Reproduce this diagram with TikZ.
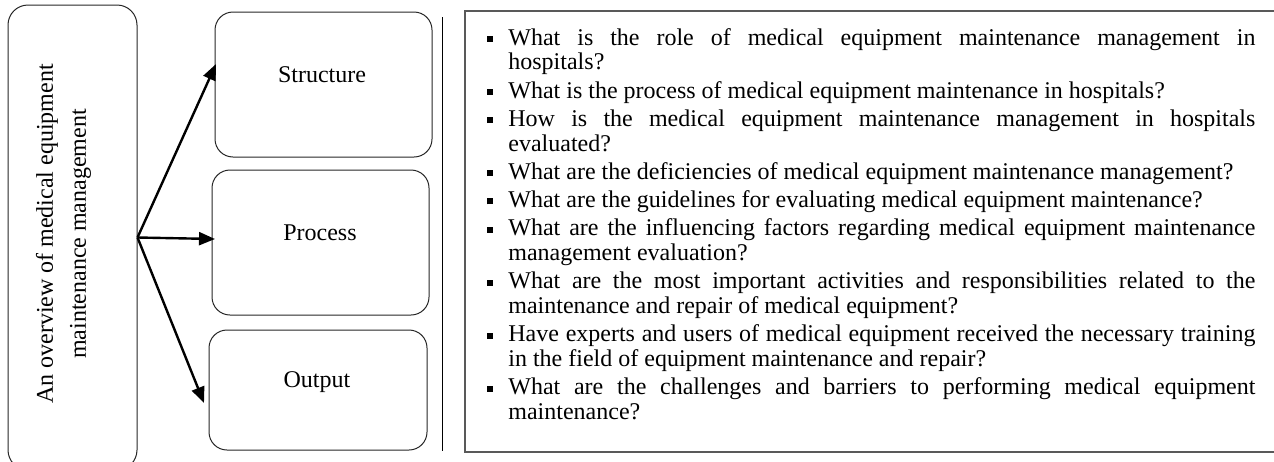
\documentclass[tikz,border=0pt]{standalone}
\usepackage{fontspec}
\setmainfont{Liberation Serif}
\usetikzlibrary{arrows.meta}
\newcommand{\qitem}[1]{\noindent\hangindent=10.5pt\hangafter=1\makebox[10.5pt][l]{\rule[1.6pt]{3pt}{3pt}}#1\par\vspace{1.75pt}}
\begin{document}
\begin{tikzpicture}[x=0.5pt,y=-0.5pt,
  box/.style={draw=black!85,line width=0.5pt,rounded corners=9pt,inner sep=0pt},
  lbl/.style={anchor=base,inner sep=0pt,font=\fontsize{12}{14}\selectfont},
  arr/.style={line width=1.2pt,-{Triangle[length=8pt,width=6.5pt]}}]
\useasboundingbox (0,0) rectangle (1274,461);
\clip (0,0) rectangle (1274,461);
% left box
\node[box,rounded corners=10pt,minimum width=64.5pt,minimum height=232.5pt] (L) at (72.5,237.5) {};
\node[rotate=90,align=center,inner sep=0pt,font=\fontsize{12}{16.5}\selectfont] (Lt) at (63.5,234)
  {An overview of medical equipment\\maintenance management};
% right boxes
\node[box,minimum width=108.5pt,minimum height=72.5pt] (S) at (323.5,84.5) {};
\node[box,minimum width=108.5pt,minimum height=72.5pt] (P) at (320.5,242.5) {};
\node[box,minimum width=109pt,minimum height=60pt] (O) at (318,390) {};
\node[lbl] (St) at (322,82) {Structure};
\node[lbl] (Pt) at (320,240) {Process};
\node[lbl] (Ot) at (317,387) {Output};
% arrows
\coordinate (ts) at (216,64);
\coordinate (tp) at (215,239);
\coordinate (to) at (204,403);
\draw[arr] (L.east) -- (ts);
\draw[arr] (L.east) -- (tp);
\draw[arr] (L.east) -- (to);
% separator
\coordinate (v1) at (442,17);
\coordinate (v2) at (442,451);
\draw[line width=0.5pt] (v1) -- (v2);
% text box
\node[draw=black!65,line width=0.8pt,minimum width=412.5pt,minimum height=220.5pt,inner sep=0pt] (T) at (877.5,231.5) {};
\node[anchor=base west,inner sep=0pt,text width=384pt,align=justify,
  font=\fontsize{12}{12.375}\selectfont] (Tx) at (487,45)
{\hyphenpenalty=10000\exhyphenpenalty=10000\tolerance=10000%
\qitem{What is the role of medical equipment maintenance management in\linebreak hospitals?}%
\qitem{What is the process of medical equipment maintenance in hospitals?}%
\qitem{How is the medical equipment maintenance management in hospitals\linebreak evaluated?}%
\qitem{What are the deficiencies of medical equipment maintenance management?}%
\qitem{What are the guidelines for evaluating medical equipment maintenance?}%
\qitem{What are the influencing factors regarding medical equipment maintenance\linebreak management evaluation?}%
\qitem{What are the most important activities and responsibilities related to the\linebreak maintenance and repair of medical equipment?}%
\qitem{Have experts and users of medical equipment received the necessary training\linebreak in the field of equipment maintenance and repair?}%
\qitem{What are the challenges and barriers to performing medical equipment\linebreak maintenance?}};
\end{tikzpicture}
\end{document}
